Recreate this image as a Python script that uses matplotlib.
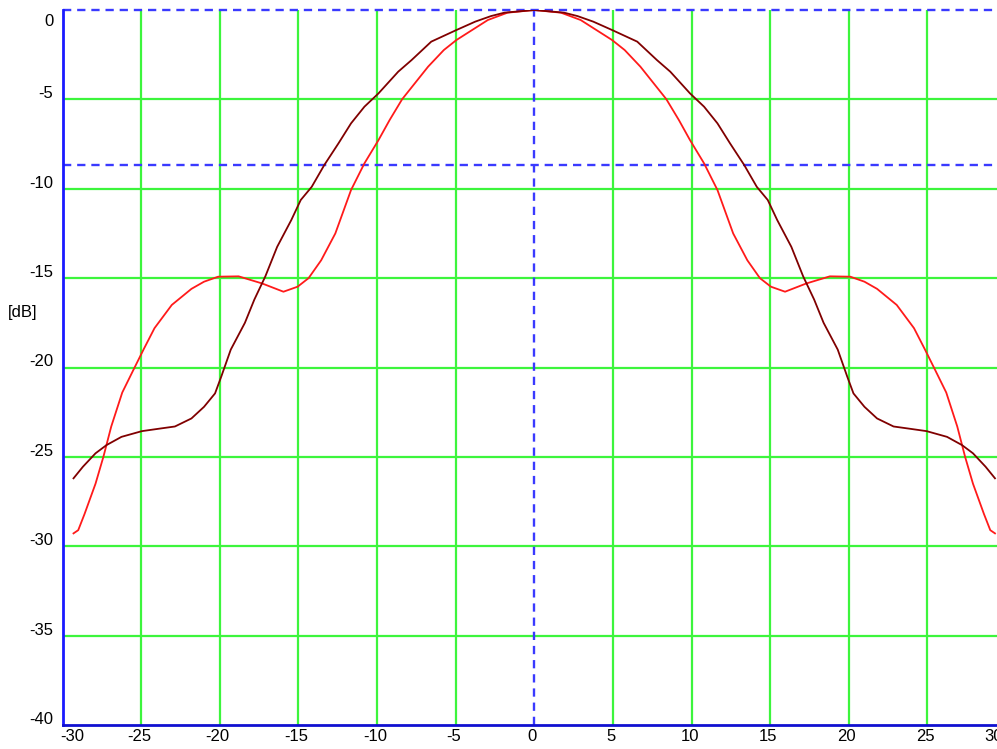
import matplotlib
matplotlib.use("Agg")
import matplotlib.pyplot as plt
from matplotlib import transforms

# ---- data ----
red_x = [-29.3, -29.0, -28.6, -27.9, -27.4, -26.9, -26.2, -25.5, -24.85, -24.15, -23.05,
         -21.8, -21.0, -20.1, -18.8, -17.3, -15.95, -15.05, -14.35, -13.55, -12.65, -11.65,
         -10.8, -9.9, -9.2, -8.4, -6.75, -5.75, -4.95, -3.95, -2.95, -1.7, 0.0,
         1.7, 2.95, 3.95, 4.95, 5.75, 6.75, 8.4, 9.2, 9.9, 10.8, 11.65, 12.65, 13.55, 14.35,
         15.05, 15.95, 17.3, 18.8, 20.1, 21.0, 21.8, 23.05, 24.15, 24.85, 25.5, 26.2, 26.9,
         27.4, 27.9, 28.6, 29.0, 29.3]
red_db = [-29.28, -29.1, -28.2, -26.5, -25.0, -23.3, -21.4, -20.15, -19.0, -17.8, -16.5,
          -15.6, -15.2, -14.92, -14.9, -15.3, -15.76, -15.48, -15.0, -14.0, -12.5, -10.07,
          -8.58, -7.27, -6.16, -4.99, -3.17, -2.24, -1.68, -1.12, -0.56, -0.15, 0.0,
          -0.15, -0.56, -1.12, -1.68, -2.24, -3.17, -4.99, -6.16, -7.27, -8.58, -10.07,
          -12.5, -14.0, -15.0, -15.48, -15.76, -15.3, -14.9, -14.92, -15.2, -15.6, -16.5,
          -17.8, -19.0, -20.15, -21.4, -23.3, -25.0, -26.5, -28.2, -29.1, -29.28]

dark_x = [-29.3, -28.7, -27.9, -27.2, -26.25, -24.95, -23.75, -22.85, -21.8, -21.0, -20.3,
          -19.9, -19.3, -18.4, -17.8, -17.1, -16.35, -15.45, -14.85, -14.15, -13.35, -12.45,
          -11.65, -10.8, -9.9, -8.65, -7.8, -6.55, -4.95, -3.75, -2.75, -1.9, 0.0,
          1.9, 2.75, 3.75, 4.95, 6.55, 7.8, 8.65, 9.9, 10.8, 11.65, 12.45, 13.35, 14.15, 14.85,
          15.45, 16.35, 17.1, 17.8, 18.4, 19.3, 19.9, 20.3, 21.0, 21.8, 22.85, 23.75, 24.95,
          26.25, 27.2, 27.9, 28.7, 29.3]
dark_db = [-26.2, -25.55, -24.8, -24.34, -23.88, -23.56, -23.41, -23.3, -22.85, -22.2, -21.45,
           -20.5, -19.0, -17.5, -16.2, -14.9, -13.25, -11.75, -10.63, -9.89, -8.67, -7.46,
           -6.34, -5.41, -4.66, -3.45, -2.8, -1.77, -1.12, -0.65, -0.34, -0.15, 0.0,
           -0.15, -0.34, -0.65, -1.12, -1.77, -2.8, -3.45, -4.66, -5.41, -6.34, -7.46,
           -8.67, -9.89, -10.63, -11.75, -13.25, -14.9, -16.2, -17.5, -19.0, -20.5, -21.45,
           -22.2, -22.85, -23.3, -23.41, -23.56, -23.88, -24.34, -24.8, -25.55, -26.2]

x_ticks = [-30, -25, -20, -15, -10, -5, 0, 5, 10, 15, 20, 25, 30]
y_ticks = [0, -5, -10, -15, -20, -25, -30, -35, -40]
marker_level = -8.67
y_label = "[dB]"

# ---- figure ----
W, H = 997, 749
fig = plt.figure(figsize=(W / 100, H / 100), dpi=100)
left_px, right_px, top_px, bot_px = 62.5, 1006, 10, 725
ax = fig.add_axes([left_px / W, (H - bot_px) / H, (right_px - left_px) / W, (bot_px - top_px) / H])
ax.set_xlim(-30, 30)
ax.set_ylim(-40, 0)

green = "#3cf53c"
for xv in x_ticks:
    if xv not in (-30, 0, 30):
        ax.axvline(xv, color=green, lw=1.6, zorder=1)
for yv in y_ticks:
    if yv not in (0, -40):
        ax.axhline(yv, color=green, lw=1.6, zorder=1)

dash = (0, (3.5, 2.5))
ax.axhline(0, color="#3a3aff", lw=1.7, ls=dash, zorder=2, clip_on=False)
ax.axhline(marker_level, color="#3a3aff", lw=1.7, ls=dash, zorder=2)
ax.axvline(0, color="#3a3aff", lw=1.7, ls=dash, zorder=2)

ax.plot(dark_x, dark_db, color="#800000", lw=1.3, zorder=4)
ax.plot(red_x, red_db, color="#ff1a1a", lw=1.3, zorder=3)

for s in ("top", "right"):
    ax.spines[s].set_visible(False)
ax.spines["left"].set_color("#1a1aff")
ax.spines["left"].set_linewidth(2)
ax.spines["bottom"].set_color("#1010d0")
ax.spines["bottom"].set_linewidth(2)

font = dict(family=["Liberation Sans", "DejaVu Sans"], size=12)
ax.set_xticks(x_ticks)
ax.set_xticklabels([str(v) for v in x_ticks], **font)
ax.set_yticks(y_ticks)
ax.set_yticklabels([str(v) for v in y_ticks], **font)
ax.tick_params(length=0, pad=3)

# vertical offsets for y labels (drawn slightly above the grid line)
for lab, v in zip(ax.get_yticklabels(), y_ticks):
    dy = -10 / 100 if v == 0 else 7 / 100
    lab.set_transform(lab.get_transform() + transforms.ScaledTranslation(-5 / 100, dy, fig.dpi_scale_trans))
for lab, v in zip(ax.get_xticklabels(), x_ticks):
    if v == -30:
        dx = 10 / 100
    elif v == 30:
        dx = -12 / 100
    else:
        dx = -2 / 100
    lab.set_transform(lab.get_transform() + transforms.ScaledTranslation(dx, 0, fig.dpi_scale_trans))

fig.text(8 / W, 1 - 313 / H, y_label, ha="left", va="center", **font)

fig.savefig("out.png", dpi=100, facecolor="white")
